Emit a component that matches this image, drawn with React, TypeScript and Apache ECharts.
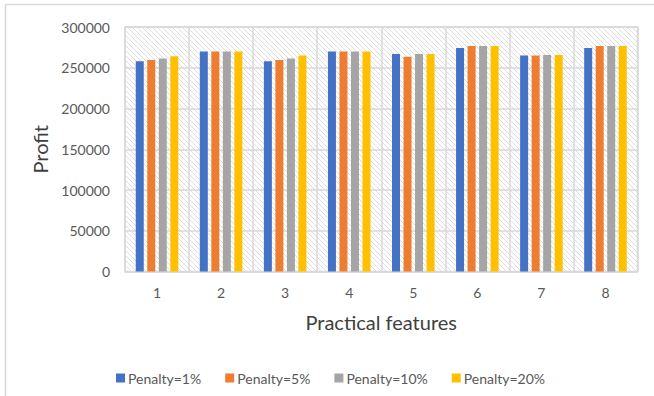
import React, { useEffect, useRef } from "react";
import * as echarts from "echarts";

// Profit per practical feature, for four penalty levels
const categories = ["1", "2", "3", "4", "5", "6", "7", "8"];
const seriesNames = ["Penalty=1%", "Penalty=5%", "Penalty=10%", "Penalty=20%"];
const penalty1 = [258000, 270000, 258000, 270000, 266800, 274200, 265000, 274200];
const penalty5 = [259500, 270000, 259500, 270000, 263600, 276700, 265000, 276700];
const penalty10 = [261500, 270000, 261500, 270000, 266800, 276700, 265600, 276700];
const penalty20 = [264000, 270000, 264900, 270000, 266800, 276700, 265600, 276700];
const colors = ["#4472C4", "#ED7D31", "#A5A5A5", "#FFC000"];

const FONT = "Lato, 'Open Sans', sans-serif";

// Light diagonal hatch tile used as the plot area fill
function makeHatch(): HTMLCanvasElement {
  const c = document.createElement("canvas");
  const n = 5;
  c.width = n;
  c.height = n;
  const ctx = c.getContext("2d")!;
  ctx.fillStyle = "#ffffff";
  ctx.fillRect(0, 0, n, n);
  ctx.fillStyle = "#dedede";
  for (let i = 0; i < n; i++) ctx.fillRect(i, i, 1, 1);
  return c;
}

export default function App() {
  const ref = useRef<HTMLDivElement>(null);

  useEffect(() => {
    if (!ref.current) return;
    const chart = echarts.init(ref.current, undefined, { renderer: "svg" });
    const values = [penalty1, penalty5, penalty10, penalty20];
    chart.setOption({
      animation: false,
      backgroundColor: "#ffffff",
      color: colors,
      graphic: [
        {
          type: "rect",
          shape: { x: 5.5, y: 4.5, width: 700, height: 500 },
          style: { fill: "none", stroke: "#d9d9d9", lineWidth: 1.5 },
          silent: true,
        },
      ],
      grid: {
        left: 125,
        top: 27,
        right: 16.5,
        bottom: 124.5,
        show: true,
        borderColor: "#d9d9d9",
        borderWidth: 1.5,
        backgroundColor: { image: makeHatch(), repeat: "repeat" },
      },
      legend: {
        data: seriesNames,
        left: 111,
        top: 366,
        itemWidth: 9,
        itemHeight: 9,
        itemGap: 24,
        icon: "rect",
        textStyle: { fontFamily: FONT, fontSize: 14, color: "#595959", padding: [0, 0, 0, -2] },
      },
      xAxis: {
        type: "category",
        data: categories,
        name: "Practical features",
        nameLocation: "middle",
        nameGap: 40,
        nameTextStyle: { fontFamily: FONT, fontSize: 20, color: "#404040" },
        axisLine: { show: true, lineStyle: { color: "#d9d9d9", width: 1.5 } },
        axisTick: { show: false },
        axisLabel: { fontFamily: FONT, fontSize: 14, color: "#595959", margin: 14 },
        splitLine: { show: true, interval: 0, lineStyle: { color: "#d9d9d9", width: 1.5 } },
      },
      yAxis: {
        type: "value",
        min: 0,
        max: 300000,
        interval: 50000,
        name: "Profit",
        nameLocation: "middle",
        nameGap: 73,
        nameTextStyle: { fontFamily: FONT, fontSize: 20, color: "#404040" },
        axisLine: { show: false },
        axisTick: { show: false },
        axisLabel: {
          fontFamily: FONT,
          fontSize: 14,
          color: "#595959",
          margin: 15,
          formatter: (v: number) => String(v),
        },
        splitLine: { show: true, lineStyle: { color: "#d9d9d9", width: 1.5 } },
      },
      series: seriesNames.map((name, i) => ({
        name,
        type: "bar",
        data: values[i],
        barWidth: 8,
        barGap: "44%",
        itemStyle: { color: colors[i] },
      })),
    });
    return () => chart.dispose();
  }, []);

  return (
    <div
      ref={ref}
      style={{ position: "fixed", left: 0, top: 0, width: 654, height: 396 }}
    />
  );
}
